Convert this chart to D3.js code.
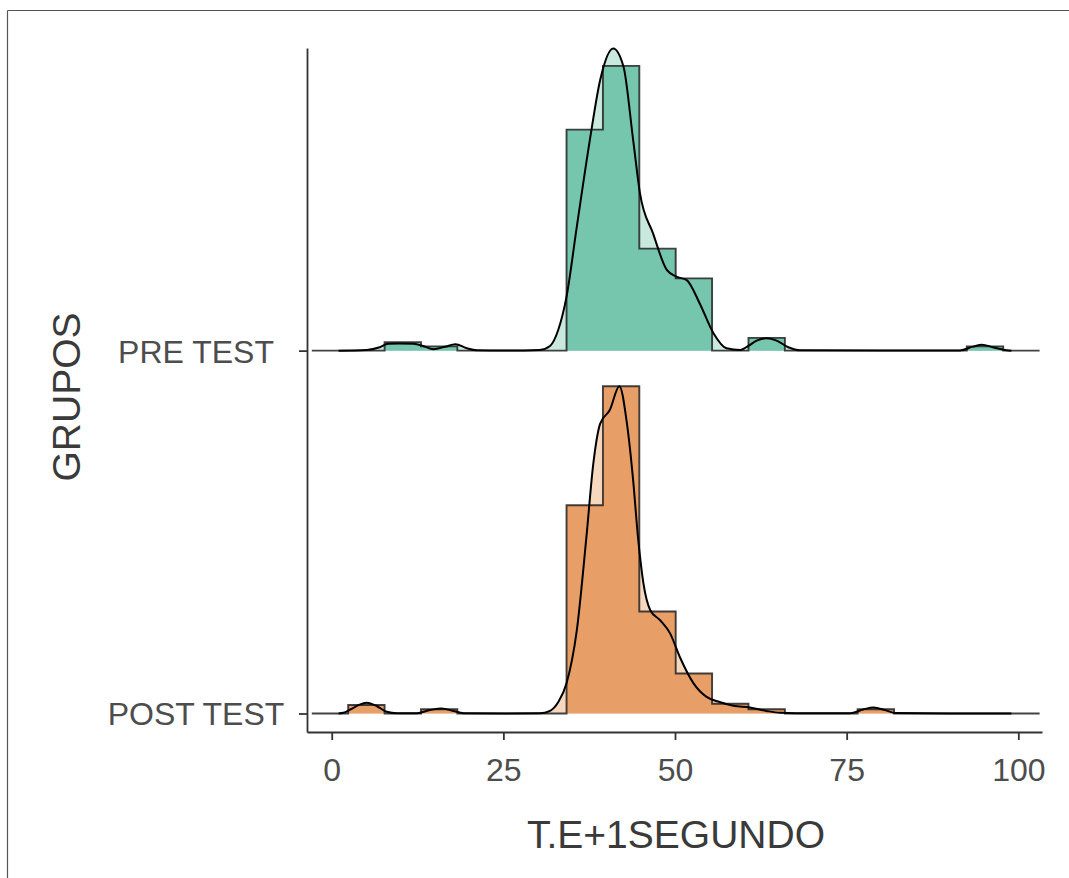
<!DOCTYPE html>
<html><head><meta charset="utf-8">
<script src="https://cdn.jsdelivr.net/npm/d3@7"></script>
<style>body{margin:0;background:#fff} svg{display:block}</style>
</head><body>
<svg id="chart" width="1069" height="878"></svg>
<script>
// ---------- data ----------
const grupos = ["POST TEST", "PRE TEST"];          // bottom -> top
const grupoPos = [1, 2];
const xTicks = [0, 25, 50, 75, 100];
const binStarts = [-2.9, 2.4, 7.7, 13.0, 18.3, 23.6, 28.9, 34.2, 39.5, 44.8, 50.1, 55.4, 60.7, 66.0, 71.3, 76.6, 81.9, 87.2, 92.5, 97.8];
const binEnd = 103.1;
const histPre  = [0, 0, 2, 1, 0, 0, 0, 52, 67, 24, 17, 0, 3, 0, 0, 0, 0, 0, 1, 0];
const histPost = [0, 2, 0, 1, 0, 0, 0, 49, 77, 24, 9.4, 2.3, 1, 0, 0, 1, 0, 0, 0, 0];

const densPreX = [1, 5.1, 7.0, 8.2, 9.9, 11.9, 13.3, 14.8, 16.5, 18.0, 19.7, 21.1, 25, 30.3, 31.8, 33.0, 34.2, 35.7, 37.6, 39.1, 41.0, 42.5, 43.9, 44.9, 46.8, 48.8, 50.2, 51.7, 53.6, 55.6, 57.5, 59.5, 60.4, 61.9, 63.3, 64.8, 66.5, 68.2, 80, 91.5, 93.4, 94.7, 96.3, 98.3, 99];
const densPreY = [0, 0.16, 0.8, 1.6, 1.7, 1.6, 1.1, 0.35, 0.9, 1.5, 0.55, 0.08, 0.02, 0.16, 1.1, 4.9, 12.7, 29.2, 49.6, 63.7, 71.1, 66.8, 49.6, 37.0, 27.6, 19.0, 17.4, 16.6, 11.1, 4.1, 0.55, 0.16, 0.8, 2.35, 2.9, 2.35, 0.8, 0.08, 0.02, 0.05, 0.94, 1.4, 0.8, 0.1, 0];

const densPostX = [1, 1.7, 2.7, 3.9, 5.1, 6.6, 8.0, 9.5, 12.4, 14.3, 16.0, 17.7, 19.2, 25, 30.3, 31.8, 33.0, 34.2, 35.7, 37.1, 38.1, 39.1, 40.5, 41.9, 43.0, 43.9, 44.6, 45.4, 46.4, 47.8, 49.3, 50.7, 52.7, 54.6, 56.5, 58.5, 60.9, 63.3, 65.3, 70, 75.5, 77.4, 78.9, 80.6, 82.1, 90, 99];
const densPostY = [0, 0.16, 0.94, 1.96, 2.5, 1.7, 0.4, 0.05, 0.08, 0.8, 1.2, 0.6, 0.08, 0.02, 0.05, 0.63, 2.7, 7.1, 19.6, 41.6, 58.8, 68.2, 71.4, 77.0, 68.2, 54.9, 41.6, 30.6, 24.3, 22.0, 18.8, 13.3, 7.1, 3.9, 2.7, 1.8, 1.4, 0.6, 0.16, 0.03, 0.05, 0.94, 1.4, 0.8, 0.1, 0.02, 0];

const colHist = {"PRE TEST": "#76c5ad", "POST TEST": "#e89f67"};
const colDens = {"PRE TEST": "#c9e8de", "POST TEST": "#f6d8bf"};

// ---------- scales ----------
const svg = d3.select("#chart");
const x = d3.scaleLinear().domain([-3.6, 103.45]).range([307, 1042]);
const y = d3.scaleLinear().domain([0.949, 2.834]).range([732, 48]);
const h = d3.scaleLinear().domain([0, 80]).range([0, 340]);

// outer frame
svg.append("line").attr("x1", 7.5).attr("x2", 1069).attr("y1", 10.5).attr("y2", 10.5).attr("stroke", "#555").attr("stroke-width", 1.2);
svg.append("line").attr("x1", 7.5).attr("x2", 7.5).attr("y1", 10.5).attr("y2", 878).attr("stroke", "#555").attr("stroke-width", 1.2);

const ridges = [
  {g: "PRE TEST", pos: grupoPos[1], hist: histPre, dx: densPreX, dy: densPreY},
  {g: "POST TEST", pos: grupoPos[0], hist: histPost, dx: densPostX, dy: densPostY}
];

ridges.forEach(r => {
  const base = y(r.pos);
  const dens = r.dx.map((v, i) => [v, r.dy[i]]);
  const histPts = binStarts.map((s, i) => [s, r.hist[i]]);
  histPts.push([binEnd, r.hist[r.hist.length - 1]]);

  const dArea = d3.area().x(d => x(d[0])).y0(base).y1(d => base - h(d[1])).curve(d3.curveMonotoneX);
  const dLine = d3.line().x(d => x(d[0])).y(d => base - h(d[1])).curve(d3.curveMonotoneX);
  const hArea = d3.area().x(d => x(d[0])).y0(base).y1(d => base - h(d[1])).curve(d3.curveStepAfter);
  const hLine = d3.line().x(d => x(d[0])).y(d => base - h(d[1])).curve(d3.curveStepAfter);

  const g = svg.append("g");
  g.append("path").attr("d", dArea(dens)).attr("fill", colDens[r.g]);
  g.append("path").attr("d", hArea(histPts)).attr("fill", colHist[r.g]);
  g.append("path").attr("d", hLine(histPts)).attr("fill", "none").attr("stroke", "#222").attr("stroke-opacity", 0.85).attr("stroke-width", 1.9);
  g.append("path").attr("d", dLine(dens)).attr("fill", "none").attr("stroke", "#000").attr("stroke-width", 2);
});

// ---------- axes ----------
const font = "'Liberation Sans', Arial, sans-serif";
const xAxis = svg.append("g").attr("transform", "translate(0,732)")
  .call(d3.axisBottom(x).tickValues(xTicks).tickSize(8).tickSizeOuter(0).tickPadding(16));
const yAxis = svg.append("g").attr("transform", "translate(307,0)")
  .call(d3.axisLeft(y).tickValues(grupoPos).tickFormat((d, i) => grupos[i]).tickSize(8).tickSizeOuter(0));

[xAxis, yAxis].forEach(a => {
  a.select(".domain").attr("stroke", "#333").attr("stroke-width", 1.8);
  a.selectAll(".tick line").attr("stroke", "#333").attr("stroke-width", 1.8);
  a.selectAll("text").attr("fill", "#4d4d4d").style("font-family", font).style("font-size", "32px");
});
xAxis.selectAll("text").attr("dy", null).attr("y", 49);
yAxis.selectAll("text").attr("text-anchor", "middle").attr("x", 196 - 307).attr("dy", null).attr("y", 11.5);

// titles
svg.append("text").attr("x", 676).attr("y", 848).attr("text-anchor", "middle")
  .style("font-family", font).style("font-size", "39px").attr("fill", "#3a3a3a").text("T.E+1SEGUNDO");
svg.append("text").attr("transform", "translate(80,397) rotate(-90)").attr("text-anchor", "middle")
  .style("font-family", font).style("font-size", "39px").attr("fill", "#3a3a3a").text("GRUPOS");
</script>
</body></html>
